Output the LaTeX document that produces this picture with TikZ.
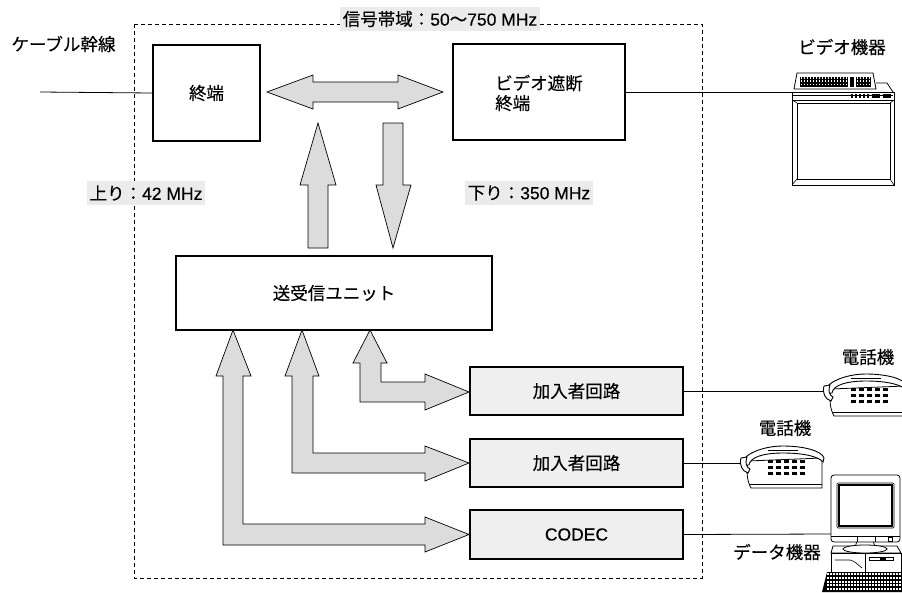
\documentclass[tikz,border=0pt]{standalone}
\usepackage{fontspec}
\setmainfont{Noto Sans CJK JP}[FakeBold=0.25]
\newfontfamily\latin{Liberation Sans}[FakeBold=0.25]
\definecolor{arrowfill}{HTML}{DCDCDC}
\definecolor{subfill}{HTML}{EFEFEF}
\definecolor{tagfill}{HTML}{EBEBEB}
% grid of small white keys on a dark key field
\newcommand\keygrid[6]{%
  \foreach \i in {1,...,#3}{\foreach \j in {1,...,#4}{%
    \fill[white] ({#1+(\i-1)*#5},{#2+(\j-1)*#6}) rectangle ++({#5*0.55},{#6*0.55});}}}
\begin{document}
\begin{tikzpicture}[x=1pt,y=-1pt,
  every node/.style={font=\fontsize{17.5}{20}\selectfont, inner sep=0pt},
  blk/.style={draw, line width=1.6pt, fill=white},
  subblk/.style={blk, fill=subfill},
  barrow/.style={draw, fill=arrowfill, line width=0.7pt, line join=miter},
  tag/.style={fill=tagfill, inner xsep=3pt, minimum height=24pt},
  wire/.style={line width=0.8pt},
  dev/.style={draw, fill=white, line width=0.8pt}]
\useasboundingbox (0,0) rectangle (902,592);

% dashed frame of the subscriber unit
\draw[dash pattern=on 4pt off 3pt, line width=0.6pt] (134,24) rectangle (702,578);
\node[tag] (band) at (440,19) {信号帯域：{\latin 50}〜{\latin 750 MHz}};

% blocks
\node[blk, minimum width=107pt, minimum height=96pt] (term) at (206.5,93) {終端};
\node[blk, minimum width=172pt, minimum height=96pt] (vterm) at (539,92) {};
\node[anchor=west, align=left] (vtermtxt) at (495,93) {ビデオ遮断\\終端};
\node[blk, minimum width=316pt, minimum height=74pt] (unit) at (334,293) {送受信ユニット};
\node[subblk, minimum width=213pt, minimum height=48pt] (sub1) at (576.5,391) {加入者回路};
\node[subblk, minimum width=213pt, minimum height=48pt] (sub2) at (576.5,463) {加入者回路};
\node[subblk, minimum width=213pt, minimum height=49pt] (codec) at (576.5,534.5) {\latin CODEC};

% labels
\node (cable) at (63.5,44) {ケーブル幹線};
\node[tag] (up) at (146,193) {上り：{\latin 42 MHz}};
\node[tag] (down) at (529,193) {下り：{\latin 350 MHz}};
\node (videolbl) at (842,47) {ビデオ機器};
\node (tel1lbl) at (868,357) {電話機};
\node (tel2lbl) at (785,428) {電話機};
\node (datalbl) at (777,552) {データ機器};

% block arrows
\draw[barrow] (267,92) -- (313,75) -- (313,82) -- (398,82) -- (398,75) -- (443,92)
  -- (398,109) -- (398,102) -- (313,102) -- (313,109) -- cycle;
\draw[barrow] (318,123) -- (336,185) -- (328,185) -- (328,248) -- (308,248) -- (308,185) -- (300,185) -- cycle;
\draw[barrow] (383,123) -- (403,123) -- (403,185) -- (411,185) -- (393,248) -- (376,185) -- (383,185) -- cycle;
\draw[barrow] (370,330) -- (387,363) -- (381,363) -- (381,382) -- (425,382) -- (425,374) -- (469,392)
  -- (425,410) -- (425,402) -- (360,402) -- (360,363) -- (353,363) -- cycle;
\draw[barrow] (302,330) -- (319,376) -- (313,376) -- (313,453) -- (425,453) -- (425,446) -- (469,463)
  -- (425,481) -- (425,473) -- (292,473) -- (292,376) -- (285,376) -- cycle;
\draw[barrow] (233,330) -- (251,376) -- (243,376) -- (243,524) -- (425,524) -- (425,517) -- (469,534.5)
  -- (425,552) -- (425,545) -- (223,545) -- (223,376) -- (216,376) -- cycle;

% end points of the lines to the devices
\coordinate (cablein) at (40,92);
\coordinate (tvin) at (792,92);
\coordinate (tel1in) at (825,391);
\coordinate (tel2in) at (742,463);
\coordinate (pcin) at (831,534);

\draw[wire] (cablein) -- (term.west);
\draw[wire] (vterm.east) -- (tvin);
\draw[wire] (sub1.east) -- (tel1in);
\draw[wire] (sub2.east) -- (tel2in);
\draw[wire] (codec.east) -- (pcin);

% video device
\draw[dev] (794,89) -- (797,73) -- (873,73) -- (876,89) -- cycle;
\fill (800,76.5) rectangle (848,87);
\keygrid{800.5}{77}{16}{3}{3}{3.3}
\fill (850,76.5) rectangle (854,87);
\fill (856,76.5) rectangle (871,87);
\keygrid{856.5}{77}{5}{3}{3}{3.3}
\draw[line width=0.8pt] (876,83) -- (887,83) -- (893,92);
\draw[dev] (792,92) rectangle (894,185);
\draw[line width=1.2pt] (793,95.5) -- (893,95.5);
\foreach \k in {851,855,859,863,867} \fill (\k,94) rectangle ++(2,3.5);
\fill (872,94) rectangle (880,97.5);
\fill (883,94) rectangle (891,97.5);
\draw[line width=0.6pt] (793,100) -- (893,100);
\draw[line width=0.8pt] (797,103) rectangle (890,179);
\draw[line width=0.6pt] (792,185) -- (797,179) (894,185) -- (890,179) (792,100) -- (797,103) (894,100) -- (890,103);

% telephones
\tikzset{telset/.pic={
  \draw[dev] (6,-2) .. controls (4,8) and (5,18) .. (9,25) -- (80,25) -- (80,-5) -- cycle;
  \draw[line width=0.6pt] (8,21) -- (80,21);
  \draw[dev, line width=0.9pt] (0,2) .. controls (-1,-8) and (20,-17) .. (41,-17)
     .. controls (62,-17) and (80,-12) .. (82,-5) -- (81,-1)
     .. controls (76,-7) and (60,-10) .. (41,-10) .. controls (22,-10) and (8,-6) .. (7,2) -- cycle;
  \draw[line width=0.6pt] (26,-13) -- (56,-13);
  \draw[dev, line width=0.9pt] (-1,-5) .. controls (-3,2) and (0,8) .. (6,10) -- (8,6)
     .. controls (4,4) and (3,0) .. (5,-6) -- cycle;
  \foreach \cx in {26,34,42,50,58}{\foreach \cy in {-3,3,9}{\fill (\cx,\cy) rectangle ++(4.5,3);}}
}}
\pic at (tel1in) {telset};
\pic at (tel2in) {telset};

% data terminal
\draw[dev] (833,546) -- (897,546) -- (901,553) -- (831,553) -- cycle;
\draw[dev] (831,553) rectangle (901,572);
\draw[line width=0.6pt] (865,553) -- (865,572);
\draw[line width=0.6pt] (835,560) -- (850,560) .. controls (855,561) and (858,565) .. (862,568);
\draw[line width=0.6pt] (869,557) rectangle (893,560);
\fill (880,557) rectangle (886,560);
\draw[line width=0.8pt] (857,541) -- (855,547) (873,541) -- (875,547);
\draw[dev] (865,549) ellipse [x radius=22, y radius=4];
\draw[dev, rounded corners=3pt] (831,475) rectangle (900,542);
\draw[line width=0.6pt, rounded corners=1pt] (837,483) rectangle (894,528);
\draw[line width=1.1pt] (839,485) rectangle (892,526);
\draw[line width=0.6pt] (831,536) -- (900,536) (857,536) -- (857,542) (875,536) -- (875,542);
\draw[line width=0.6pt] (888,537.5) rectangle (892,541);
\fill (827,572) -- (902,572) -- (902,592) -- (822,592) -- cycle;
\keygrid{827}{573}{25}{5}{3}{3.8}
\end{tikzpicture}
\end{document}
